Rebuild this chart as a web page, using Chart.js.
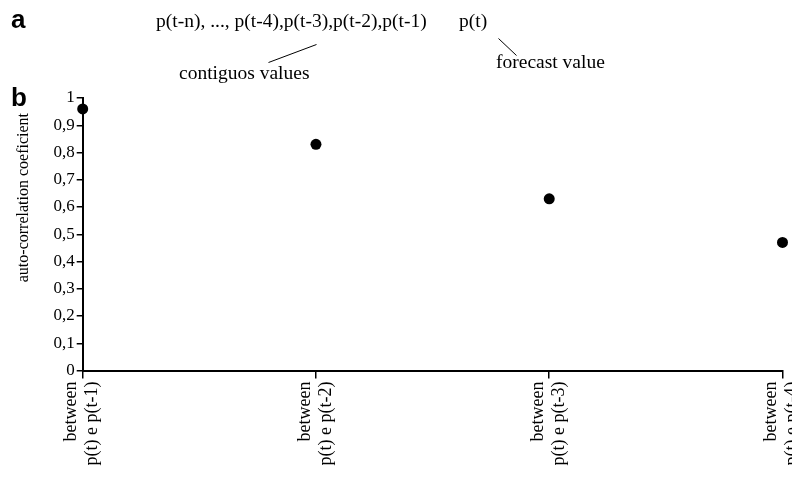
<!DOCTYPE html>
<html>
<head>
<meta charset="utf-8">
<script src="https://cdn.jsdelivr.net/npm/chart.js@4/dist/chart.umd.min.js"></script>
<style>
  html, body { margin: 0; padding: 0; background: #fff; }
  #wrap { width: 792px; height: 481px; position: relative; }
</style>
</head>
<body>
<div id="wrap"><canvas id="c" width="792" height="481"></canvas></div>
<script>
// Lag pairs on the category axis (two-line labels)
const lagLabels = [
  ['between', 'p(t) e p(t-1)'],
  ['between', 'p(t) e p(t-2)'],
  ['between', 'p(t) e p(t-3)'],
  ['between', 'p(t) e p(t-4)']
];
// Auto-correlation coefficient for each lag
const autoCorr = [0.96, 0.83, 0.63, 0.47];
// Value axis range
const yMin = 0, yMax = 1, yStep = 0.1;

const SERIF = '"Liberation Serif", "Times New Roman", serif';
const SANS = '"Liberation Sans", Arial, sans-serif';

// Panel letters, lag sequence sketch and the y-axis caption
const annotations = {
  id: 'annotations',
  afterDraw(chart) {
    const ctx = chart.ctx;
    ctx.save();
    ctx.fillStyle = '#000';
    ctx.strokeStyle = '#000';
    ctx.textBaseline = 'alphabetic';

    ctx.font = 'bold 26px ' + SANS;
    ctx.textAlign = 'left';
    ctx.fillText('a', 11, 28);
    ctx.fillText('b', 11, 106);

    ctx.font = '19.5px ' + SERIF;
    ctx.fillText('p(t-n), ..., p(t-4),p(t-3),p(t-2),p(t-1)', 156, 27);
    ctx.fillText('p(t)', 459, 27);
    ctx.fillText('contiguos values', 179, 79);
    ctx.fillText('forecast value', 496, 68);

    ctx.lineWidth = 1;
    ctx.beginPath();
    ctx.moveTo(316.5, 44.5); ctx.lineTo(268.5, 62.5);
    ctx.moveTo(498.5, 38.5); ctx.lineTo(516.5, 55.5);
    ctx.stroke();

    ctx.translate(28, 113);
    ctx.rotate(-Math.PI / 2);
    ctx.font = '16px ' + SERIF;
    ctx.textAlign = 'right';
    ctx.fillText('auto-correlation coeficient', 0, 0);
    ctx.restore();
  }
};

new Chart(document.getElementById('c'), {
  type: 'line',
  data: {
    labels: lagLabels,
    datasets: [{
      data: autoCorr,
      showLine: false,
      pointRadius: 5.5,
      pointHoverRadius: 5.5,
      pointBackgroundColor: '#000',
      pointBorderColor: '#000',
      pointBorderWidth: 0,
      clip: false
    }]
  },
  options: {
    responsive: false,
    animation: false,
    events: [],
    layout: { padding: { top: 98, right: 9.5, left: 0, bottom: 0 } },
    plugins: { legend: { display: false }, tooltip: { enabled: false }, title: { display: false } },
    scales: {
      x: {
        type: 'category',
        offset: false,
        grid: { display: true, drawOnChartArea: false, drawTicks: true, tickLength: 8, color: '#000', lineWidth: 1.5 },
        border: { display: true, color: '#000', width: 2 },
        ticks: {
          autoSkip: false, maxRotation: 90, minRotation: 90,
          color: '#000', padding: 3, labelOffset: -11,
          font: { family: SERIF, size: 18, lineHeight: 1.17 }
        },
        afterFit(scale) {
          scale.height = 110.5;
          scale.paddingLeft = 0;
          scale.paddingRight = 0;
        }
      },
      y: {
        min: yMin, max: yMax,
        grid: { display: true, drawOnChartArea: false, drawTicks: true, tickLength: 6, color: '#000', lineWidth: 1.5 },
        border: { display: true, color: '#000', width: 2 },
        ticks: {
          stepSize: yStep, color: '#000', padding: 2,
          font: { family: SERIF, size: 17 },
          callback: v => {
            const r = Math.round(v * 10) / 10;
            return (r === 0 || r === 1) ? String(r) : r.toFixed(1).replace('.', ',');
          }
        },
        afterFit(scale) { scale.width = 82.7; }
      }
    }
  },
  plugins: [annotations]
});
</script>
</body>
</html>
